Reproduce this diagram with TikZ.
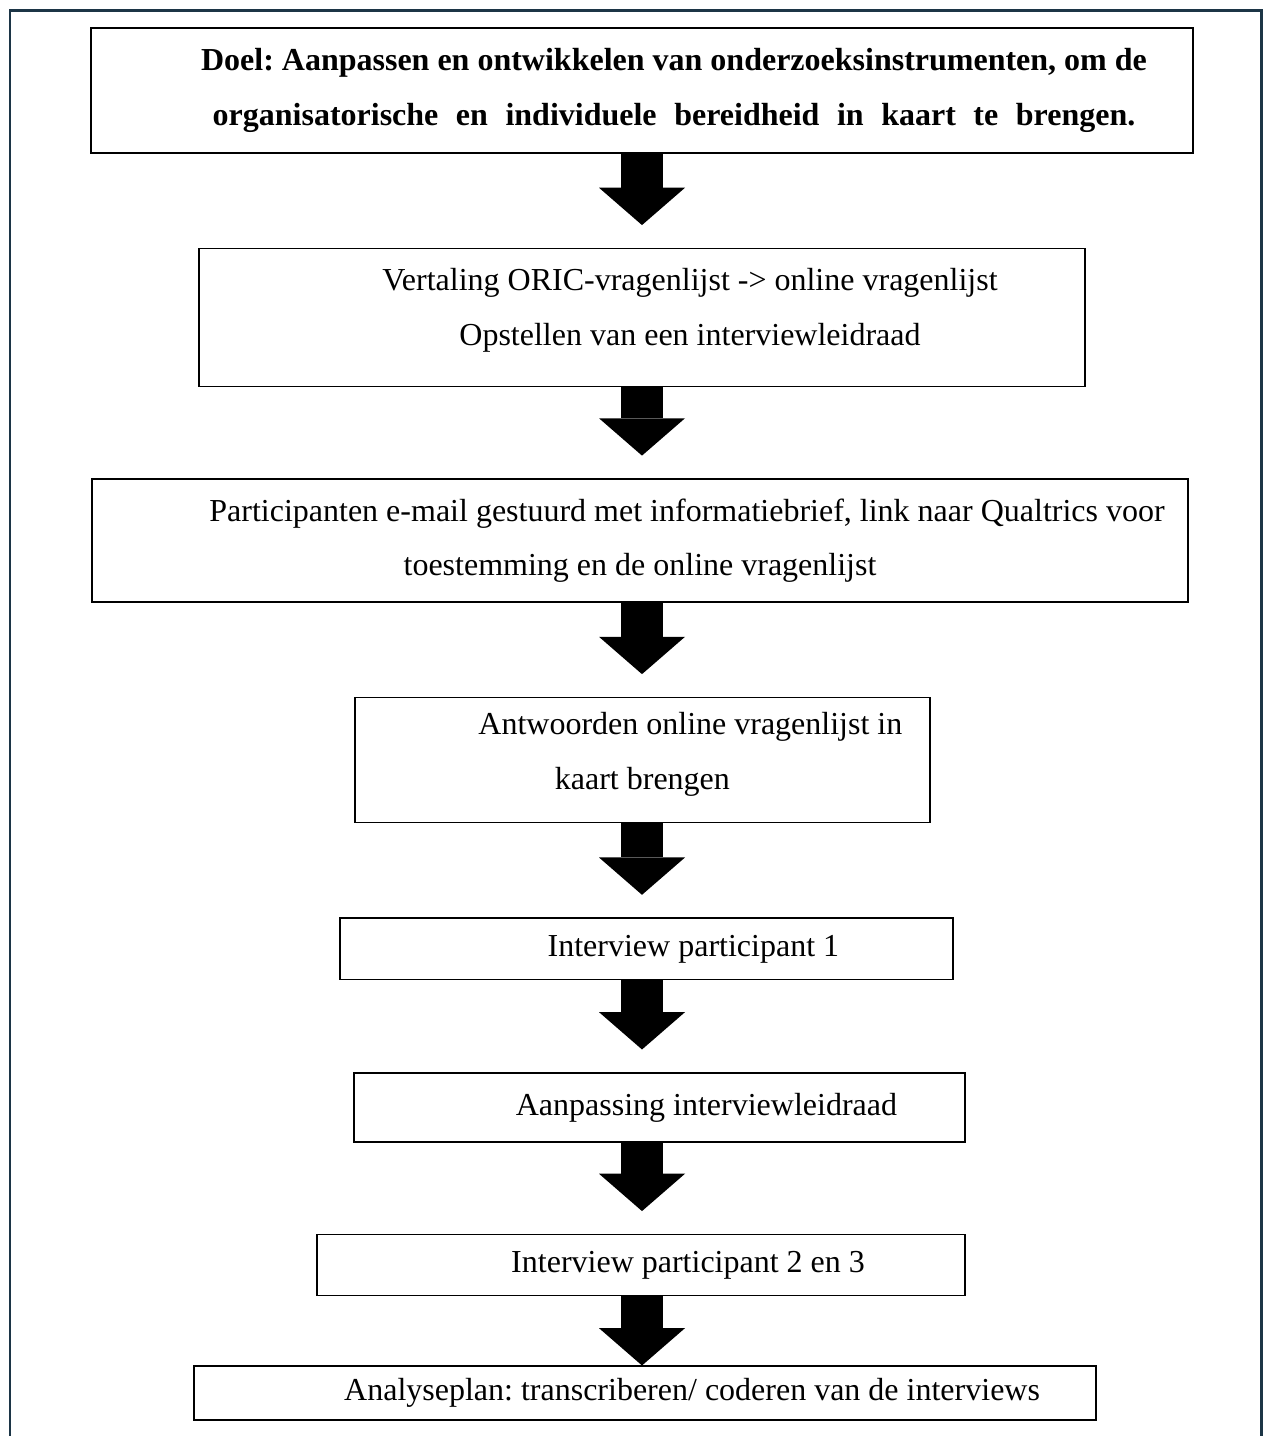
\documentclass[tikz,border=0pt]{standalone}
\usepackage{fontspec}
\setmainfont{Liberation Serif}
\usetikzlibrary{positioning,arrows.meta}
\definecolor{framecol}{RGB}{28,53,70}
\tikzset{
  stepbox/.style={rectangle,draw,line width=0.6pt,align=center,inner sep=2pt,font=\fontsize{12pt}{20.5pt}\selectfont\frenchspacing},
  goalbox/.style={stepbox,font=\fontsize{12pt}{20.5pt}\selectfont\frenchspacing\bfseries},
  downarrow/.style={line width=15.75pt,shorten >=8.5pt,-{Triangle[width=32.25pt,length=14pt,line width=0pt]}},
  pageframe/.style={draw=framecol,line width=1.1pt}
}

\begin{document}
\begin{tikzpicture}[node distance=35.25pt]
\useasboundingbox (0,0) rectangle (473.6pt,-538.5pt);
\draw[pageframe] (3.75pt,-538.5pt) -- (3.75pt,-4pt) -- (472.9pt,-4pt) -- (472.9pt,-538.5pt);

\node[goalbox,minimum width=413.25pt,minimum height=46.9pt] (goal) at (240.75pt,-33.9pt)
  {\hspace*{24pt}Doel: Aanpassen en ontwikkelen van onderzoeksinstrumenten, om de\\
   \hspace*{24pt}\makebox[346pt][s]{organisatorische en individuele bereidheid in kaart te brengen.}};
\node[stepbox,minimum width=332.25pt,minimum height=51.75pt,below=of goal] (oric)
  {\hspace*{36pt}Vertaling ORIC-vragenlijst -> online vragenlijst\\
   \hspace*{36pt}Opstellen van een interviewleidraad\\[-12.5pt]\mbox{}};
\node[stepbox,minimum width=411pt,minimum height=46.1pt,below=34.1pt of oric,xshift=-0.75pt] (mail)
  {\hspace*{35.25pt}Participanten e-mail gestuurd met informatiebrief, link naar Qualtrics voor\\
   toestemming en de online vragenlijst};
\node[stepbox,minimum width=215.6pt,minimum height=46.9pt,below=of mail,xshift=0.9pt] (answers)
  {\hspace*{36pt}Antwoorden online vragenlijst in\\
   kaart brengen\\[-13.4pt]\mbox{}};
\node[stepbox,minimum width=229.9pt,minimum height=22.9pt,below=of answers,xshift=1.5pt] (int1)
  {\hspace*{35.25pt}Interview participant 1};
\node[stepbox,minimum width=229.1pt,minimum height=25.9pt,below=34.5pt of int1,xshift=4.9pt] (adapt)
  {\hspace*{35.25pt}Aanpassing interviewleidraad};
\node[stepbox,minimum width=243pt,minimum height=22.9pt,below=34.1pt of adapt,xshift=-6.9pt] (int23)
  {\hspace*{35.25pt}Interview participant 2 en 3};
\node[stepbox,minimum width=338.25pt,minimum height=20.25pt,below=25.9pt of int23,xshift=1.5pt] (analysis)
  {\hspace*{35.25pt}Analyseplan: transcriberen/ coderen van de interviews};

\draw[downarrow] (goal.south) -- (oric.north -| goal);
\draw[downarrow] (oric.south -| goal) -- (mail.north -| goal);
\draw[downarrow] (mail.south -| goal) -- (answers.north -| goal);
\draw[downarrow] (answers.south -| goal) -- (int1.north -| goal);
\draw[downarrow] (int1.south -| goal) -- (adapt.north -| goal);
\draw[downarrow] (adapt.south -| goal) -- (int23.north -| goal);
\draw[downarrow,shorten >=0pt] (int23.south -| goal) -- (analysis.north -| goal);

\end{tikzpicture}
\end{document}
